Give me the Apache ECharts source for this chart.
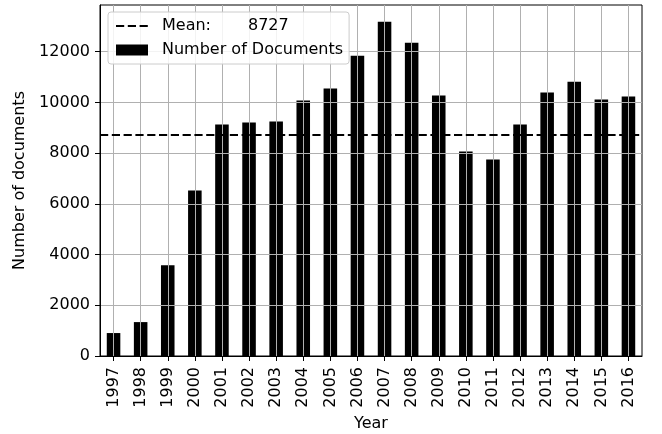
<!DOCTYPE html>
<html>
<head>
<meta charset="utf-8">
<script src="https://cdn.jsdelivr.net/npm/echarts@6/dist/echarts.min.js"></script>
<style>
  html, body { margin: 0; padding: 0; background: #fff; }
  #chart { width: 662px; height: 434px; }
</style>
</head>
<body>
<div id="chart"></div>
<script>
// Documents published per year
const years = ['1997', '1998', '1999', '2000', '2001', '2002', '2003', '2004', '2005', '2006',
               '2007', '2008', '2009', '2010', '2011', '2012', '2013', '2014', '2015', '2016'];
const documentCounts = [905, 1337, 3580, 6530, 9127, 9205, 9245, 10071, 10543, 11841,
                        13179, 12352, 10267, 8064, 7750, 9127, 10385, 10818, 10110, 10228];
const meanValue = 8727;
const yTicks = [0, 2000, 4000, 6000, 8000, 10000, 12000];

const FONT = 'DejaVu Sans';
const FS = 16;
const DASH = [8.2, 3.6];

const chart = echarts.init(document.getElementById('chart'), null, { renderer: 'canvas' });

chart.setOption({
  animation: false,
  backgroundColor: '#fff',
  textStyle: { fontFamily: FONT, color: '#000' },
  grid: {
    left: 100, right: 20, top: 5, bottom: 78,
    containLabel: false,
    outerBoundsMode: 'none',
    show: true, borderColor: '#000', borderWidth: 1, backgroundColor: 'transparent'
  },
  legend: {
    orient: 'vertical',
    left: 108, top: 12,
    padding: [5, 6, 5, 7],
    itemGap: 6,
    itemWidth: 32, itemHeight: 11,
    symbolKeepAspect: false,
    backgroundColor: 'rgba(255,255,255,0.85)',
    borderColor: '#cccccc', borderWidth: 1, borderRadius: 3,
    textStyle: {
      fontFamily: FONT, fontSize: FS, color: '#000', lineHeight: 18, padding: [0, 0, 0, 9],
      rich: { lab: { fontFamily: FONT, fontSize: FS, color: '#000', lineHeight: 18, width: 86 } }
    },
    data: [
      { name: 'Mean', itemStyle: { color: 'rgba(0,0,0,0)', borderColor: 'rgba(0,0,0,0)', borderWidth: 0 } },
      { name: 'Number of Documents', icon: 'rect' }
    ],
    formatter: function (name) {
      return name === 'Mean' ? '{lab|Mean:}' + meanValue : name;
    }
  },
  xAxis: {
    type: 'category',
    data: years,
    name: 'Year',
    nameLocation: 'middle',
    nameGap: 55,
    nameTextStyle: { fontFamily: FONT, fontSize: FS, color: '#000' },
    z: 3,
    axisLine: { show: true, lineStyle: { color: '#000', width: 1 } },
    axisTick: { show: true, alignWithLabel: true, length: 5, lineStyle: { color: '#000', width: 1 } },
    axisLabel: { rotate: 90, margin: 11, fontFamily: FONT, fontSize: FS, color: '#000' },
    splitLine: { show: true, alignWithLabel: true, lineStyle: { color: '#b0b0b0', width: 1 } }
  },
  yAxis: {
    type: 'value',
    min: 0, max: 13840, interval: 2000,
    name: 'Number of documents',
    nameLocation: 'middle',
    nameGap: 65,
    nameTextStyle: { fontFamily: FONT, fontSize: FS, color: '#000' },
    z: 3,
    axisLine: { show: true, lineStyle: { color: '#000', width: 1 } },
    axisTick: { show: true, length: 5, customValues: yTicks, lineStyle: { color: '#000', width: 1 } },
    axisLabel: {
      margin: 10, fontFamily: FONT, fontSize: FS, color: '#000', customValues: yTicks,
      formatter: function (v) { return String(v); }
    },
    splitLine: { show: true, lineStyle: { color: '#b0b0b0', width: 1 } }
  },
  series: [
    {
      name: 'Mean',
      type: 'line',
      data: [],
      symbol: 'none',
      z: 5,
      lineStyle: { color: '#000', width: 2, type: DASH },
      itemStyle: { color: '#000' },
      markLine: {
        silent: true,
        symbol: 'none',
        z: 5,
        label: { show: false },
        lineStyle: { color: '#000', width: 2, type: DASH },
        data: [{ yAxis: meanValue }]
      }
    },
    {
      name: 'Number of Documents',
      type: 'bar',
      data: documentCounts,
      barWidth: '50%',
      z: 1,
      itemStyle: { color: '#000' }
    }
  ]
});
</script>
</body>
</html>
